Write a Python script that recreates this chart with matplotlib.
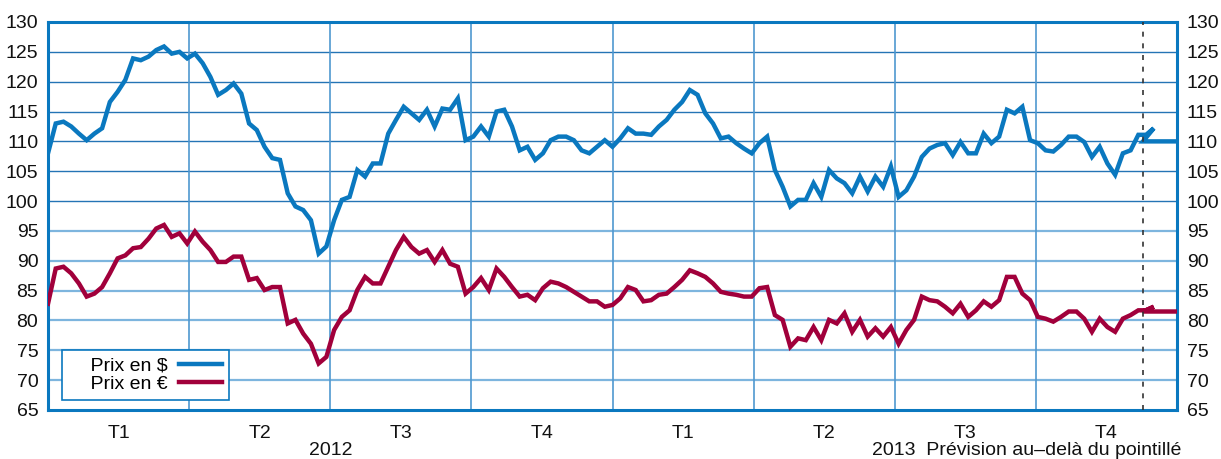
import numpy as np
import matplotlib
matplotlib.use('Agg')
import matplotlib.pyplot as plt

plt.rcParams['font.family'] = ['Liberation Sans', 'DejaVu Sans']

# prix releves tous les 5 jours a partir du 1er janvier 2012
usd = [108, 113, 113.3, 112.5, 111.3, 110.2, 111.3, 112.2, 116.6, 118.3,
       120.3, 123.9, 123.6, 124.2, 125.3, 125.9, 124.7, 125, 123.9, 124.7,
       123.1, 120.8, 117.8, 118.6, 119.7,
       118, 113, 111.9, 109.1, 107.2, 106.9, 101.3, 99.1, 98.5, 96.8,
       91.2, 92.4, 96.8, 100.2, 100.7, 105.2, 104.1, 106.3, 106.3, 111.3,
       113.6, 115.8, 114.7, 113.6,
       115.3, 112.5, 115.5, 115.3, 117.2, 110.2, 110.8, 112.5, 110.8, 115,
       115.3, 112.5, 108.5, 109.1, 106.9, 108, 110.2, 110.8, 110.8, 110.2,
       108.5, 108, 109.1, 110.2, 109.1,
       110.5, 112.2, 111.3, 111.3, 111.1, 112.5, 113.6, 115.3, 116.6, 118.6,
       117.8, 114.7, 113, 110.5, 110.8, 109.7, 108.8, 108, 109.7, 110.8,
       105.2, 102.4, 99.1, 100.2,
       100.2, 103, 100.7, 105.2, 103.8, 103, 101.3, 104.1, 101.6, 104.1,
       102.4, 105.8, 100.7, 101.8, 104.1, 107.4, 108.8, 109.4, 109.7, 107.7,
       109.9, 108, 108, 111.3, 109.7,
       110.8, 115.3, 114.7, 115.8, 110.2, 109.7, 108.5, 108.3, 109.4, 110.8,
       110.8, 109.9, 107.4, 109.1, 106.3, 104.4, 108, 108.5, 111.1, 111.1,
       112.2]
eur = [82.8, 88.7, 89, 87.9, 86.2, 84, 84.5, 85.6, 87.9, 90.4,
       90.9, 92.1, 92.3, 93.7, 95.4, 96, 94, 94.6, 92.9, 94.9,
       93.2, 91.8, 89.8, 89.8, 90.7,
       90.7, 86.8, 87.1, 85.1, 85.6, 85.6, 79.5, 80.1, 77.8, 76.1,
       72.8, 73.9, 78.4, 80.6, 81.7, 85.1, 87.3, 86.2, 86.2, 89,
       91.8, 94, 92.3, 91.2,
       91.8, 89.8, 91.8, 89.5, 89, 84.5, 85.6, 87.1, 85.1, 88.7,
       87.3, 85.6, 84, 84.3, 83.4, 85.4, 86.5, 86.2, 85.6, 84.8,
       84, 83.2, 83.2, 82.3, 82.6,
       83.7, 85.6, 85.1, 83.2, 83.4, 84.3, 84.5, 85.6, 86.8, 88.4,
       87.9, 87.3, 86.2, 84.8, 84.5, 84.3, 84, 84, 85.4, 85.6,
       80.9, 80.1, 75.6, 77,
       76.7, 78.9, 76.7, 80.1, 79.5, 81.2, 78.1, 80.1, 77.3, 78.7,
       77.3, 78.9, 76.1, 78.4, 80.1, 84, 83.4, 83.2, 82.3, 81.2,
       82.8, 80.6, 81.7, 83.2, 82.3,
       83.4, 87.3, 87.3, 84.5, 83.4, 80.6, 80.3, 79.8, 80.6, 81.5,
       81.5, 80.3, 78.1, 80.3, 78.9, 78.1, 80.3, 80.9, 81.7, 81.7,
       82.3]

# prevision au-dela du pointille
jour_prevision = 708
fc_days = [708, 730]
fc_usd = [110, 110]
fc_eur = [81.5, 81.5]

quarters = ['T1', 'T2', 'T3', 'T4', 'T1', 'T2', 'T3', 'T4']
yticks = list(range(65, 131, 5))

days = np.arange(len(usd)) * 5
x_usd = np.concatenate([days, fc_days])
y_usd = np.concatenate([usd, fc_usd])
x_eur = np.concatenate([days, fc_days])
y_eur = np.concatenate([eur, fc_eur])

blue = '#0a78bf'
red = '#a1003b'
grid_dark = '#2474b5'
grid_light = '#7db5de'
fs = 14

fig = plt.figure(figsize=(12.21, 4.59), dpi=100)
ax = fig.add_axes([48 / 1221, 1 - 410 / 459, (1177 - 48) / 1221, 388 / 459])

qlen = 730 / 8
for v in yticks[1:-1]:
    if v >= 100:
        ax.axhline(v, color=grid_dark, lw=1.0, zorder=1)
    else:
        ax.axhline(v, color=grid_light, lw=1.6, zorder=1)
for i in range(1, 8):
    ax.axvline(i * qlen, color='#4f98d0', lw=1.2, zorder=1)

ax.plot(x_usd, y_usd, color=blue, lw=3.2, solid_joinstyle='miter', label='    Prix en $', zorder=3)
ax.plot(x_eur, y_eur, color=red, lw=3.2, solid_joinstyle='miter', label='    Prix en €', zorder=3)
ax.axvline(jour_prevision, color='#333333', lw=1.2, ls=(0, (3, 4)), zorder=4)

ax.set_xlim(0, 730)
ax.set_ylim(65, 130)
ax.set_yticks(yticks)
ax.set_xticks([(i + 0.5) * qlen for i in range(8)])
ax.set_xticklabels(quarters)
ax.tick_params(axis='x', length=0, pad=11, labelsize=fs, colors='#111111')
ax.tick_params(axis='y', length=0, pad=7, labelsize=fs, labelright=True, colors='#111111')

for s in ax.spines.values():
    s.set_color(blue)
    s.set_linewidth(2.2)

ax.text(2 * qlen, -0.105, '2012', transform=ax.get_xaxis_transform(),
        ha='center', va='center', fontsize=fs, color='#111111')
ax.text(532.5, -0.105, '2013  Prévision au–delà du pointillé', transform=ax.get_xaxis_transform(),
        ha='left', va='center', fontsize=fs, color='#111111')

leg = ax.legend(loc='lower left', bbox_to_anchor=(14 / 1129, 10 / 388), markerfirst=False,
                fontsize=fs, handlelength=2.2, fancybox=False, framealpha=1,
                borderpad=0.35, labelspacing=0.05, handletextpad=0.6, borderaxespad=0)
leg.get_frame().set_edgecolor(blue)
leg.get_frame().set_linewidth(1.2)

fig.savefig('out.png', dpi=100)
